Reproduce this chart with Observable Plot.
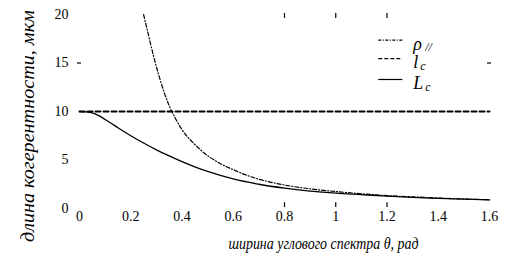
<!DOCTYPE html>
<html>
<head>
<meta charset="utf-8">
<script src="https://cdn.jsdelivr.net/npm/d3@7"></script>
<script src="https://cdn.jsdelivr.net/npm/@observablehq/plot@0.6"></script>
<style>
  html, body { margin: 0; padding: 0; background: #fff; }
  svg { display: block; }
</style>
</head>
<body>
<div id="chart"></div>
<script>
// ---- data ----
const xTicks = [0, 0.2, 0.4, 0.6, 0.8, 1, 1.2, 1.4, 1.6];
const xTickLabels = ["0", "0.2", "0.4", "0.6", "0.8", "1", "1.2", "1.4", "1.6"];
const yTicks = [0, 5, 10, 15, 20];
const yTickLabels = ["0", "5", "10", "15", "20"];

const lcTheta = [0, 1.6];
const lcValues = [10, 10];

const LcTheta = [0, 0.025, 0.05, 0.075, 0.1, 0.125, 0.15, 0.2, 0.25, 0.3, 0.35, 0.4, 0.45, 0.5, 0.6, 0.7, 0.8, 0.9, 1.0, 1.1, 1.2, 1.3, 1.4, 1.5, 1.6];
const LcValues = [10, 9.97, 9.86, 9.58, 9.18, 8.76, 8.32, 7.5, 6.75, 6.05, 5.42, 4.83, 4.3, 3.82, 3.05, 2.5, 2.1, 1.8, 1.58, 1.43, 1.28, 1.15, 1.05, 0.96, 0.89];

const rhoTheta = [0.25, 0.27, 0.29, 0.31, 0.33, 0.35, 0.375, 0.4, 0.45, 0.5, 0.55, 0.6, 0.65, 0.7, 0.8, 0.9, 1.0, 1.1, 1.2, 1.3, 1.4, 1.5, 1.6];
const rhoValues = [20, 17.8, 15.6, 13.7, 12.0, 10.6, 9.25, 8.13, 6.6, 5.45, 4.62, 4.0, 3.45, 3.02, 2.42, 2.03, 1.75, 1.52, 1.33, 1.2, 1.08, 0.98, 0.9];

const legendNames = ["ρ", "l", "L"];
const legendSubs = ["//", "c", "c"];

const topTicks = [0.8, 1, 1.2];
const sideTicks = [15];

const xTitle = "ширина углового спектра θ, рад";
const yTitle = "длина когерентности, мкм";

// ---- build ----
const toRows = (xs, ys) => xs.map((x, i) => ({x, y: ys[i]}));
const lcRows = toRows(lcTheta, lcValues);
const LcRows = toRows(LcTheta, LcValues);
const rhoRows = toRows(rhoTheta, rhoValues);

const serif = "'Liberation Serif', 'Times New Roman', Times, 'DejaVu Serif', serif";
const legendLineY = [17.35, 15.45, 13.3];
const legendDash = ["3,1.5,1,1.5", "4,2", null];
const subDx = [12, 7, 12];
const subDy = [7, 8, 8];
const subSize = [12, 12, 12];
const legendRows = legendNames.map((name, i) => ({name, sub: legendSubs[i], y: legendLineY[i], i}));

const legendMarks = [
  ...legendRows.map(r => Plot.ruleY([r], {y: "y", x1: () => 1.168, x2: () => 1.262, stroke: "black", strokeWidth: 1.2, strokeDasharray: legendDash[r.i]})),
  Plot.text(legendRows, {x: () => 1.302, y: "y", text: "name", textAnchor: "start", fontSize: 18, fontStyle: "italic", fontFamily: serif, dy: 4}),
  ...legendRows.map(r => Plot.text([r], {x: () => 1.302, y: "y", text: "sub", textAnchor: "start", fontSize: subSize[r.i], fontStyle: "italic", fontFamily: serif, dx: subDx[r.i], dy: subDy[r.i]}))
];

const chart = Plot.plot({
  width: 523,
  height: 266,
  marginLeft: 79,
  marginRight: 34,
  marginTop: 14,
  marginBottom: 58,
  style: {background: "#fff", fontFamily: serif, color: "black"},
  x: {domain: [0, 1.6]},
  y: {domain: [0, 20]},
  marks: [
    Plot.axisX(xTicks, {tickSize: 0, tickPadding: 3, tickFormat: (d) => xTickLabels[xTicks.indexOf(d)], fontSize: 14, fontFamily: serif, label: null}),
    Plot.axisY(yTicks, {tickSize: 0, tickPadding: 11, tickFormat: (d) => yTickLabels[yTicks.indexOf(d)], fontSize: 14, fontFamily: serif, label: null}),
    // inward tick marks
    Plot.ruleX(topTicks, {x: d => d, y1: () => 19.6, y2: () => 20.1, stroke: "black", strokeWidth: 1.2}),
    Plot.ruleX(topTicks, {x: d => d, y1: () => 0.1, y2: () => 0.6, stroke: "black", strokeWidth: 1.2}),
    Plot.ruleY(sideTicks, {y: d => d, x1: () => -0.008, x2: () => 0.008, stroke: "black", strokeWidth: 1.2}),
    Plot.ruleY(sideTicks, {y: d => d, x1: () => 1.592, x2: () => 1.608, stroke: "black", strokeWidth: 1.2}),
    // curves
    Plot.line(lcRows, {x: "x", y: "y", stroke: "black", strokeWidth: 2, strokeDasharray: "5,3"}),
    Plot.line(LcRows, {x: "x", y: "y", stroke: "black", strokeWidth: 1.3, curve: "monotone-x"}),
    Plot.line(rhoRows, {x: "x", y: "y", stroke: "black", strokeWidth: 1.2, strokeDasharray: "4,2,1,2", curve: "monotone-x"}),
    ...legendMarks,
    // titles
    Plot.text([xTitle], {x: () => 0.952, frameAnchor: "bottom", textAnchor: "middle", lineAnchor: "middle", text: d => d, dy: 35, fontSize: 16, fontStyle: "italic", fontFamily: serif}),
    Plot.text([yTitle], {y: () => 8.5, frameAnchor: "left", textAnchor: "middle", lineAnchor: "middle", text: d => d, dx: -52, rotate: -90, fontSize: 19, fontStyle: "italic", fontFamily: serif})
  ]
});
// fit the titles to the reference's lengths
d3.select(chart).selectAll("text").each(function () {
  const t = this.textContent;
  if (t === xTitle) { this.setAttribute("textLength", 190); this.setAttribute("lengthAdjust", "spacingAndGlyphs"); }
  if (t === yTitle) { this.setAttribute("textLength", 232); this.setAttribute("lengthAdjust", "spacingAndGlyphs"); }
});
document.getElementById("chart").appendChild(chart);
</script>
</body>
</html>
